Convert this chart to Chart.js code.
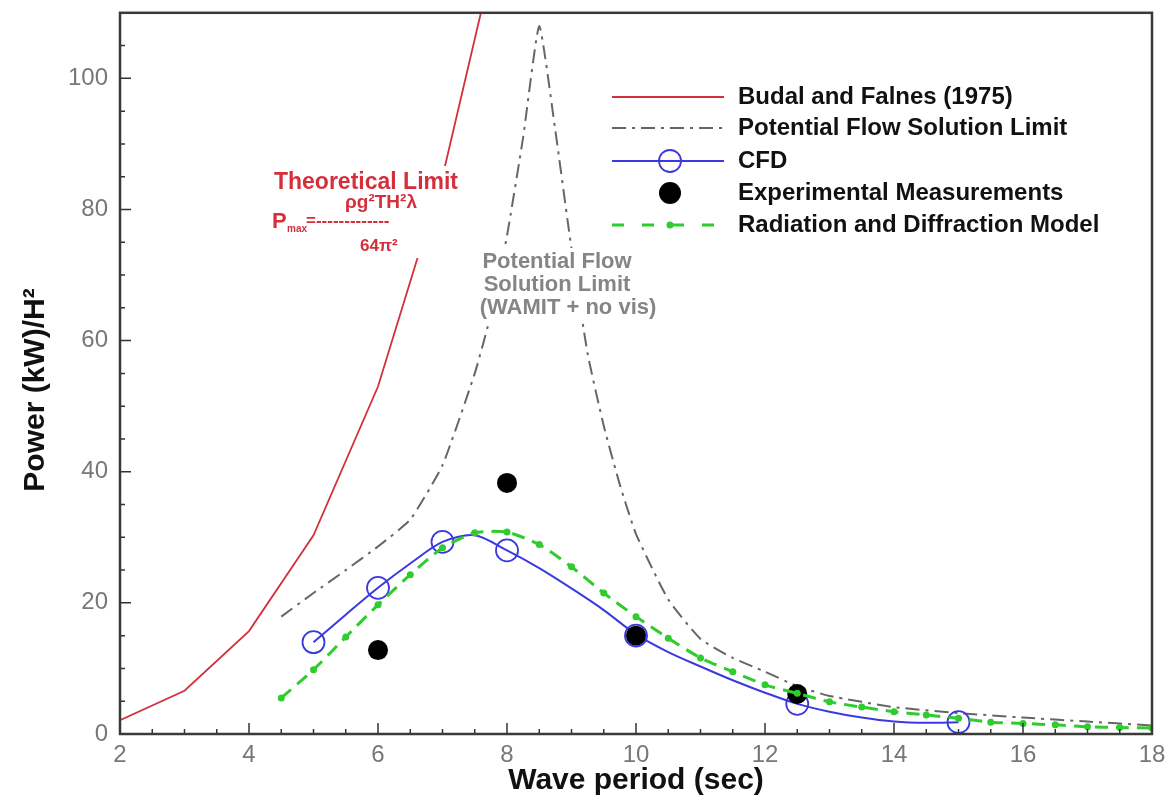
<!DOCTYPE html>
<html>
<head>
<meta charset="utf-8">
<script src="https://cdn.jsdelivr.net/npm/chart.js@4/dist/chart.umd.min.js"></script>
<style>
html, body { margin: 0; padding: 0; background: #fff; }
#wrap { width: 1165px; height: 798px; }
</style>
</head>
<body>
<div id="wrap"><canvas id="chart"></canvas></div>
<script>
// values: wave period (sec) vs power (kW)/H^2
const budalT = [2, 3, 4, 5, 6, 7, 8];
const budalP = [2.1, 6.6, 15.7, 30.3, 53, 85, 127];

const flowT = [4.5, 5, 5.5, 6, 6.5, 7, 7.5, 7.75, 8, 8.25, 8.5, 8.75, 9, 9.25, 9.5, 9.75, 10, 10.5, 11, 11.5, 12, 12.5, 13, 14, 15, 16, 17, 18];
const flowP = [17.9, 21.5, 25, 28.6, 32.7, 41, 55, 64, 76, 91, 108, 92, 74, 58, 47, 38, 30.5, 20.5, 14.5, 11.6, 9.5, 7.3, 5.8, 4.1, 3.2, 2.5, 1.9, 1.3];

const cfdT = [5, 6, 7, 8, 10, 12.5, 15];
const cfdP = [14, 22.3, 29.3, 28, 15, 4.6, 1.8];

// the smooth CFD curve drawn through the circles
const cfdCurveT = [5, 5.5, 6, 6.5, 7, 7.5, 8, 8.5, 9, 9.5, 10, 10.5, 11, 11.5, 12, 12.5, 13, 13.5, 14, 14.5, 15];
const cfdCurveP = [14, 18.2, 22.3, 26, 29.3, 30.3, 28, 25.3, 22.2, 18.9, 15.2, 12.5, 10.3, 8.2, 6.3, 4.6, 3.4, 2.5, 1.9, 1.7, 1.8];

const expT = [6, 8, 10, 12.5];
const expP = [12.8, 38.3, 15, 6.1];

const radT = [4.5, 5, 5.5, 6, 6.5, 7, 7.5, 8, 8.5, 9, 9.5, 10, 10.5, 11, 11.5, 12, 12.5, 13, 13.5, 14, 14.5, 15, 15.5, 16, 16.5, 17, 17.5, 18];
const radP = [5.5, 9.8, 14.8, 19.7, 24.3, 28.4, 30.7, 30.8, 28.9, 25.5, 21.5, 17.9, 14.6, 11.6, 9.5, 7.5, 6.2, 4.9, 4.1, 3.4, 2.9, 2.4, 1.8, 1.6, 1.4, 1.1, 1.0, 0.9];

const xTicks = [2, 4, 6, 8, 10, 12, 14, 16, 18];
const yTicks = [0, 20, 40, 60, 80, 100];

const pts = (xs, ys) => xs.map((x, i) => ({ x: x, y: ys[i] }));

const RED = '#d3303c';
const GRAY = '#666666';
const BLUE = '#3a3ae0';
const GREEN = '#2fcc2f';
const FONT = "'Liberation Sans', Arial, sans-serif";

// inward tick marks, frame and axis titles
const frame = {
  id: 'frame',
  afterDatasetsDraw(chart) {
    const ctx = chart.ctx;
    const a = chart.chartArea;
    const xs = chart.scales.x, ys = chart.scales.y;
    ctx.save();
    ctx.strokeStyle = '#333';
    ctx.lineWidth = 1.5;
    ctx.beginPath();
    for (let v = xs.min; v <= xs.max + 1e-9; v += 0.5) {
      const px = xs.getPixelForValue(v);
      const len = xTicks.includes(v) ? 11 : 5;
      ctx.moveTo(px, a.bottom);
      ctx.lineTo(px, a.bottom - len);
    }
    for (let v = ys.min; v <= ys.max + 1e-9; v += 5) {
      const py = ys.getPixelForValue(v);
      const len = yTicks.includes(v) ? 11 : 5;
      ctx.moveTo(a.left, py);
      ctx.lineTo(a.left + len, py);
    }
    ctx.stroke();
    ctx.strokeStyle = '#3a3a3a';
    ctx.lineWidth = 2.5;
    ctx.strokeRect(a.left, a.top, a.right - a.left, a.bottom - a.top);

    ctx.fillStyle = '#111';
    ctx.font = 'bold 30px ' + FONT;
    ctx.textAlign = 'center';
    ctx.textBaseline = 'middle';
    ctx.fillText('Wave period (sec)', (a.left + a.right) / 2, 781);
    ctx.translate(36, 390);
    ctx.rotate(-Math.PI / 2);
    ctx.fillText('Power (kW)/H\u00B2', 0, 0);
    ctx.restore();
  }
};

// legend in the upper right, like the original
const legendBox = {
  id: 'legendBox',
  afterDraw(chart) {
    const ctx = chart.ctx;
    const x0 = 612, x1 = 724, xm = 670, xt = 738;
    const rows = [
      { y: 97, text: 'Budal and Falnes (1975)', kind: 'red' },
      { y: 128, text: 'Potential Flow Solution Limit', kind: 'gray' },
      { y: 161, text: 'CFD', kind: 'blue' },
      { y: 193, text: 'Experimental Measurements', kind: 'black' },
      { y: 225, text: 'Radiation and Diffraction Model', kind: 'green' }
    ];
    ctx.save();
    rows.forEach(r => {
      ctx.setLineDash([]);
      if (r.kind === 'red') {
        ctx.strokeStyle = RED; ctx.lineWidth = 2;
        ctx.beginPath(); ctx.moveTo(x0, r.y); ctx.lineTo(x1, r.y); ctx.stroke();
      } else if (r.kind === 'gray') {
        ctx.strokeStyle = GRAY; ctx.lineWidth = 2;
        ctx.setLineDash([14, 6, 3, 6]);
        ctx.beginPath(); ctx.moveTo(x0, r.y); ctx.lineTo(x1, r.y); ctx.stroke();
      } else if (r.kind === 'blue') {
        ctx.strokeStyle = BLUE; ctx.lineWidth = 2;
        ctx.beginPath(); ctx.moveTo(x0, r.y); ctx.lineTo(x1, r.y); ctx.stroke();
        ctx.lineWidth = 1.8;
        ctx.beginPath(); ctx.arc(xm, r.y, 11, 0, Math.PI * 2); ctx.stroke();
      } else if (r.kind === 'black') {
        ctx.fillStyle = '#000';
        ctx.beginPath(); ctx.arc(xm, r.y, 11, 0, Math.PI * 2); ctx.fill();
      } else {
        ctx.strokeStyle = GREEN; ctx.lineWidth = 3;
        ctx.setLineDash([12, 18]);
        ctx.beginPath(); ctx.moveTo(x0, r.y); ctx.lineTo(x1, r.y); ctx.stroke();
        ctx.fillStyle = GREEN;
        ctx.beginPath(); ctx.arc(xm, r.y, 3.5, 0, Math.PI * 2); ctx.fill();
      }
      ctx.fillStyle = '#111';
      ctx.font = 'bold 24px ' + FONT;
      ctx.textAlign = 'left';
      ctx.textBaseline = 'middle';
      ctx.fillText(r.text, xt, r.y);
    });
    ctx.restore();
  }
};

// text notes inside the plot, on white boxes that hide the lines behind them
const notes = {
  id: 'notes',
  afterDatasetsDraw(chart) {
    const ctx = chart.ctx;
    ctx.save();
    ctx.fillStyle = '#fff';
    ctx.fillRect(266, 166, 200, 92);
    ctx.fillRect(476, 248, 186, 74);

    ctx.textBaseline = 'middle';
    ctx.textAlign = 'center';
    ctx.fillStyle = RED;
    ctx.font = 'bold 23px ' + FONT;
    ctx.fillText('Theoretical Limit', 366, 183);
    ctx.font = 'bold 19px ' + FONT;
    ctx.fillText('\u03C1g\u00B2TH\u00B2\u03BB', 381, 203);
    ctx.textAlign = 'left';
    ctx.font = 'bold 22px ' + FONT;
    ctx.fillText('P', 272, 222);
    ctx.font = 'bold 10px ' + FONT;
    ctx.fillText('max', 287, 229);
    ctx.font = 'bold 17px ' + FONT;
    ctx.fillText('=-------------', 306, 221);
    ctx.fillText('64\u03C0\u00B2', 360, 246);
    ctx.textAlign = 'center';
    ctx.fillStyle = '#858585';
    ctx.font = 'bold 22px ' + FONT;
    ctx.fillText('Potential Flow', 557, 262);
    ctx.fillText('Solution Limit', 557, 285);
    ctx.fillText('(WAMIT + no vis)', 568, 308);
    ctx.restore();
  }
};

new Chart(document.getElementById('chart'), {
  type: 'scatter',
  data: {
    datasets: [
      {
        label: 'Budal and Falnes (1975)',
        data: pts(budalT, budalP),
        showLine: true, borderColor: RED, borderWidth: 1.8,
        pointRadius: 0, tension: 0, order: 6
      },
      {
        label: 'Potential Flow Solution Limit',
        data: pts(flowT, flowP),
        showLine: true, borderColor: GRAY, borderWidth: 2,
        borderDash: [14, 6, 3, 6], pointRadius: 0, tension: 0.15, order: 5
      },
      {
        label: 'CFD curve',
        data: pts(cfdCurveT, cfdCurveP),
        showLine: true, borderColor: BLUE, borderWidth: 2,
        pointRadius: 0, tension: 0.3, order: 4
      },
      {
        label: 'CFD',
        data: pts(cfdT, cfdP),
        showLine: false, pointRadius: 11, pointBorderWidth: 1.8,
        pointBorderColor: BLUE, pointBackgroundColor: 'rgba(0,0,0,0)', order: 3
      },
      {
        label: 'Experimental Measurements',
        data: pts(expT, expP),
        showLine: false, pointRadius: 10, pointBorderWidth: 0,
        pointBackgroundColor: '#000', pointBorderColor: '#000', order: 2
      },
      {
        label: 'Radiation and Diffraction Model',
        data: pts(radT, radP),
        showLine: true, borderColor: GREEN, borderWidth: 3,
        borderDash: [13, 8], tension: 0.2,
        pointRadius: 3.5, pointBorderWidth: 0,
        pointBackgroundColor: GREEN, order: 1
      }
    ]
  },
  options: {
    responsive: true,
    maintainAspectRatio: false,
    animation: false,
    layout: { padding: { left: 0, right: 13, top: 12, bottom: 0 } },
    plugins: { legend: { display: false }, tooltip: { enabled: false } },
    scales: {
      x: {
        type: 'linear', min: 2, max: 18,
        grid: { display: false, drawTicks: false },
        border: { display: false },
        ticks: { stepSize: 2, includeBounds: false, padding: 7, color: '#777', font: { family: FONT, size: 24 } },
        afterFit: s => { s.height = 64; s.paddingLeft = 0; s.paddingRight = 0; }
      },
      y: {
        type: 'linear', min: 0, max: 110,
        grid: { display: false, drawTicks: false },
        border: { display: false },
        ticks: { stepSize: 20, includeBounds: false, padding: 12, color: '#777', font: { family: FONT, size: 24 } },
        afterFit: s => { s.width = 120; s.paddingTop = 0; s.paddingBottom = 0; }
      }
    }
  },
  plugins: [frame, legendBox, notes]
});
</script>
</body>
</html>
